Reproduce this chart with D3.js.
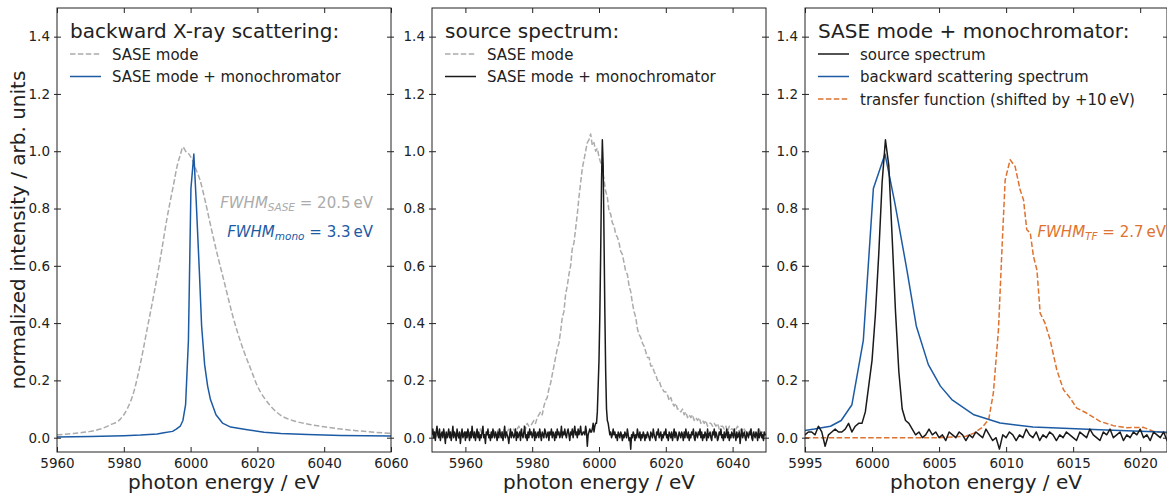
<!DOCTYPE html>
<html>
<head>
<meta charset="utf-8">
<script src="https://cdn.jsdelivr.net/npm/d3@7"></script>
<style>
  body { margin: 0; background: #fff; }
  text { font-family: "DejaVu Sans", sans-serif; fill: #222; }
</style>
</head>
<body>
<div id="chart"></div>
<script>
// ---- data ----

// y ticks (shared by all panels)
const yTicks = [0, 0.2, 0.4, 0.6, 0.8, 1.0, 1.2, 1.4];

// x ticks per panel
const ticksBack = [5960, 5980, 6000, 6020, 6040, 6060];
const ticksSource = [5960, 5980, 6000, 6020, 6040];
const ticksMono = [5995, 6000, 6005, 6010, 6015, 6020];

// SASE spectrum, averaged (panel 1, grey dashed)
const saseAvgE = [5960, 5965, 5970, 5973, 5976, 5979, 5981, 5983, 5985, 5987, 5989, 5991, 5993, 5995, 5996, 5997, 5997.7, 5998.5, 5999.5, 6000.5, 6001.5, 6002.8, 6004.5, 6006, 6008.2, 6009.5, 6011, 6012.5, 6014, 6016, 6018, 6020, 6022, 6024, 6027, 6030, 6035, 6040, 6045, 6050, 6055, 6060];
const saseAvgV = [0.01, 0.015, 0.022, 0.03, 0.045, 0.065, 0.1, 0.16, 0.26, 0.38, 0.5, 0.63, 0.77, 0.89, 0.95, 0.99, 1.015, 1.0, 0.99, 0.97, 0.94, 0.9, 0.82, 0.74, 0.63, 0.57, 0.5, 0.43, 0.37, 0.3, 0.24, 0.18, 0.14, 0.11, 0.078, 0.062, 0.048, 0.038, 0.03, 0.024, 0.019, 0.015];

// backward scattering spectrum (panel 1 blue, panel 3 blue)
const backE = [5960, 5970, 5980, 5985, 5990, 5992, 5994.6, 5995.7, 5996.9, 5997.7, 5998.5, 5999.35, 6000.1, 6000.97, 6001.7, 6002.6, 6003.3, 6004.2, 6005.1, 6005.95, 6007.6, 6009.55, 6012, 6017, 6022, 6027, 6035, 6045, 6060];
const backV = [0.002, 0.004, 0.007, 0.009, 0.013, 0.017, 0.022, 0.03, 0.04, 0.06, 0.115, 0.34, 0.87, 0.99, 0.82, 0.586, 0.39, 0.255, 0.18, 0.133, 0.08, 0.051, 0.037, 0.028, 0.019, 0.015, 0.011, 0.008, 0.006];

// single-shot SASE spectrum (panel 2 grey dashed), 0.5 eV steps from 5950 eV, in percent
const saseShotStart = 5950, saseShotStep = 0.5;
const saseShotPct = [
  1,2,0,1,2,1,0,2,1,0,2,1,2,0,1,2,0,1,2,1,
  2,0,1,2,1,2,0,2,1,3,1,1,0,2,2,1,2,3,1,2,
  3,1,2,3,1,2,3,2,1,3,
  2,3,4,2,3,4,3,5,4,4,
  5,6,5,7,8,9,8,11,13,14,
  17,19,22,25,28,31,33,37,42,44,
  50,53,57,60,66,68,73,78,84,89,
  94,97,100,103,104,106,102,103,100,101,
  98,96,94,90,86,84,79,78,75,74,
  71,70,68,65,64,61,58,57,53,51,
  47,44,42,38,36,35,33,32,30,28,
  28,25,25,23,22,20,20,18,17,16,
  16,15,13,14,12,11,12,10,10,9,
  10,8,9,7,8,7,8,6,7,6,
  7,5,6,5,6,4,5,5,4,5,
  4,5,3,4,4,3,4,2,4,3,
  3,2,3,4,2,3,1,3,2,2,
  2,3,1,2,2,1,3,1,2,1,
  2
];

// source spectrum, SASE + monochromator (panel 2 black, panel 3 black), 0.25 eV steps from 5950 eV, in percent
const sourceStart = 5950, sourceStep = 0.25;
const sourcePct = [
  1,3,0,2,-1,2,4,1,0,3,-1,1,2,0,3,1,-2,2,0,1,
  3,0,2,-1,1,4,0,2,1,-1,3,1,0,2,-2,1,3,0,1,2,
  -1,2,0,3,1,-1,2,0,4,1,0,2,-1,1,3,0,2,-1,1,0,
  2,4,0,1,-2,2,1,3,0,1,-1,2,0,3,1,0,2,1,-1,2,
  0,3,1,0,2,-1,1,4,0,2,1,0,-2,1,3,0,2,1,0,1,
  3,-1,2,0,1,2,-1,3,1,0,2,4,0,1,-1,2,0,3,1,2,
  0,1,3,-1,2,0,1,2,0,3,1,-1,2,1,0,3,2,0,1,2,
  -1,2,1,3,0,2,1,-1,2,0,3,1,2,0,1,4,0,2,1,3,
  1,0,2,3,1,-1,2,1,3,0,2,4,1,2,0,3,1,2,4,1,
  1,2,2,1,4,2,-3,1,2,3,2,2,3,5,2,4,5,5,9,18,
  27,43,64,89,104,95,70,44,23,10,6,5,3,1,2,0,1,3,1,2,
  0,1,-1,2,1,0,2,1,-1,1,0,2,1,0,3,1,-1,0,-4,1,
  0,2,1,-1,1,0,3,1,0,2,-1,1,0,2,1,-1,1,0,2,1,
  0,-1,2,1,0,3,1,0,-1,2,1,3,0,1,2,-1,1,0,2,1,
  3,0,1,-1,2,1,0,2,-1,1,3,0,2,1,-1,0,2,1,0,2,
  1,-1,2,0,3,1,0,2,-1,1,0,2,1,3,0,-1,2,1,0,2,
  1,3,0,2,-1,1,0,2,1,-1,3,0,1,2,0,-1,2,1,3,0,
  2,1,-1,0,2,1,3,0,1,-1,2,0,1,3,0,2,-1,1,0,2,
  1,0,3,1,-1,2,0,1,2,-2,1,3,0,1,2,0,-1,2,1,0,
  2,1,3,0,-1,2,1,0,2,1,-1,3,0,1,2,0,1,-1,2,1,
  1
];

// transfer function, shifted by +10 eV (panel 3 orange dashed)
const tfE = [5995, 6000, 6005, 6007, 6007.6, 6008.2, 6008.7, 6009.05, 6009.43, 6009.7, 6009.93, 6010.3, 6010.67, 6011.04, 6011.3, 6011.54, 6011.8, 6012.04, 6012.3, 6012.54, 6012.9, 6013.28, 6013.78, 6014.28, 6014.78, 6015.27, 6016, 6017, 6018, 6019, 6020.25, 6021, 6022];
const tfV = [0, 0, 0, 0.005, 0.016, 0.035, 0.063, 0.156, 0.377, 0.668, 0.9, 0.97, 0.947, 0.866, 0.83, 0.726, 0.715, 0.633, 0.585, 0.435, 0.4, 0.342, 0.237, 0.167, 0.138, 0.103, 0.086, 0.057, 0.042, 0.035, 0.036, 0.022, 0.016];

// ---- build point lists ----
const zip = (xs, ys) => xs.map((e, i) => [e, ys[i]]);
const saseAvg = zip(saseAvgE, saseAvgV);
const back = zip(backE, backV);
const saseShot = saseShotPct.map((v, i) => [saseShotStart + i * saseShotStep, v / 100]);
const source = sourcePct.map((v, i) => [sourceStart + i * sourceStep, v / 100]);
const tf = zip(tfE, tfV);

// ---- styles ----
const GREY = "#ababab", BLUE = "#1c5ba4", BLACK = "#1a1a1a", ORANGE = "#de7230";
const DASH = "5.5,2.4";

const panels = [
  {
    left: 57, right: 391, domain: [5960, 6060], ticks: ticksBack,
    title: "backward X-ray scattering:",
    series: [
      {data: saseAvg, color: GREY, dash: DASH, smooth: true, label: "SASE mode"},
      {data: back, color: BLUE, label: "SASE mode + monochromator"}
    ],
    notes: [
      {x: 373, y: 208, color: GREY, sub: "SASE", rest: " = 20.5\u2009eV"},
      {x: 373, y: 237, color: BLUE, sub: "mono", rest: " = 3.3\u2009eV"}
    ]
  },
  {
    left: 432, right: 766, domain: [5950, 6050], ticks: ticksSource,
    title: "source spectrum:",
    series: [
      {data: saseShot, color: GREY, dash: DASH, label: "SASE mode"},
      {data: source, color: BLACK, label: "SASE mode + monochromator"}
    ],
    notes: []
  },
  {
    left: 805, right: 1167, domain: [5995, 6022], ticks: ticksMono,
    title: "SASE mode + monochromator:",
    series: [
      {data: tf, color: ORANGE, dash: DASH, label: "transfer function (shifted by +10\u2009eV)", order: 2},
      {data: back, color: BLUE, label: "backward scattering spectrum", order: 1},
      {data: source, color: BLACK, label: "source spectrum", order: 0}
    ],
    notes: [
      {x: 1166, y: 237, color: ORANGE, sub: "TF", rest: " = 2.7\u2009eV"}
    ]
  }
];

const width = 1167, height = 496;
const axTop = 8, axBottom = 452;

const svg = d3.select("#chart").append("svg")
  .attr("width", width)
  .attr("height", height);

const y = d3.scaleLinear().domain([-0.05, 1.5]).range([axBottom, axTop]);

panels.forEach((p, i) => {
  const x = d3.scaleLinear().domain(p.domain).range([p.left, p.right]);

  svg.append("clipPath").attr("id", "clip" + i)
    .append("rect")
    .attr("x", p.left).attr("y", axTop)
    .attr("width", p.right - p.left).attr("height", axBottom - axTop);

  // curves
  const plot = svg.append("g").attr("clip-path", `url(#clip${i})`);
  p.series.forEach(s => {
    const line = d3.line()
      .x(d => x(d[0])).y(d => y(d[1]))
      .curve(s.smooth ? d3.curveMonotoneX : d3.curveLinear);
    plot.append("path")
      .datum(s.data)
      .attr("fill", "none")
      .attr("stroke", s.color)
      .attr("stroke-width", 1.5)
      .attr("stroke-dasharray", s.dash || null)
      .attr("stroke-linejoin", "round")
      .attr("d", line);
  });

  // axes, ticks pointing inward
  const xb = svg.append("g")
    .attr("transform", `translate(0,${axBottom})`)
    .call(d3.axisBottom(x).tickValues(p.ticks).tickSizeInner(-5).tickSizeOuter(0).tickPadding(6).tickFormat(d3.format("d")));
  const xt = svg.append("g")
    .attr("transform", `translate(0,${axTop})`)
    .call(d3.axisTop(x).tickValues(p.ticks).tickSizeInner(-5).tickSizeOuter(0));
  const yl = svg.append("g")
    .attr("transform", `translate(${p.left},0)`)
    .call(d3.axisLeft(y).tickValues(yTicks).tickSizeInner(-4).tickSizeOuter(0).tickPadding(7).tickFormat(d3.format(".1f")));
  yl.selectAll(".tick line").attr("x1", -3);
  const yr = svg.append("g")
    .attr("transform", `translate(${p.right},0)`)
    .call(d3.axisRight(y).tickValues(yTicks).tickSizeInner(-4).tickSizeOuter(0));
  yr.selectAll(".tick line").attr("x1", 3);
  // top and right ticks carry no labels
  xt.selectAll("text").remove();
  yr.selectAll("text").remove();

  [xb, xt, yl, yr].forEach(a => {
    a.select(".domain").remove();
    a.selectAll(".tick line").attr("stroke", "#222");
    a.selectAll("text").attr("font-size", 13.5).attr("fill", "#222").attr("font-family", "DejaVu Sans");
  });

  svg.append("rect")
    .attr("x", p.left).attr("y", axTop)
    .attr("width", p.right - p.left).attr("height", axBottom - axTop)
    .attr("fill", "none").attr("stroke", "#222").attr("stroke-width", 1);

  // x label
  svg.append("text")
    .attr("x", (p.left + Math.min(p.right, p.left + 334)) / 2 + (i === 2 ? 14 : 0))
    .attr("y", 489)
    .attr("text-anchor", "middle")
    .attr("font-size", 20)
    .text("photon energy / eV");

  // legend with title
  svg.append("text")
    .attr("x", p.left + 13).attr("y", 38)
    .attr("font-size", 20)
    .text(p.title);
  const items = p.series.slice().sort((a, b) => (a.order || 0) - (b.order || 0));
  items.forEach((s, k) => {
    const cy = 54 + k * 22.5;
    svg.append("line")
      .attr("x1", p.left + 13).attr("x2", p.left + 44)
      .attr("y1", cy).attr("y2", cy)
      .attr("stroke", s.color).attr("stroke-width", 1.5)
      .attr("stroke-dasharray", s.dash || null);
    svg.append("text")
      .attr("x", p.left + 55).attr("y", cy + 5.5)
      .attr("font-size", 15)
      .text(s.label);
  });

  // FWHM notes
  p.notes.forEach(n => {
    const t = svg.append("text")
      .attr("x", n.x).attr("y", n.y)
      .attr("text-anchor", "end")
      .attr("font-size", 15);
    t.append("tspan").attr("font-style", "italic").attr("fill", n.color).text("FWHM");
    t.append("tspan").attr("font-style", "italic").attr("fill", n.color)
      .attr("font-size", 10.5).attr("dy", 3).text(n.sub);
    t.append("tspan").attr("fill", n.color).attr("dy", -3).text(n.rest);
  });
});

// shared y label
svg.append("text")
  .attr("transform", "translate(25,230) rotate(-90)")
  .attr("text-anchor", "middle")
  .attr("font-size", 20)
  .text("normalized intensity / arb. units");
</script>
</body>
</html>
